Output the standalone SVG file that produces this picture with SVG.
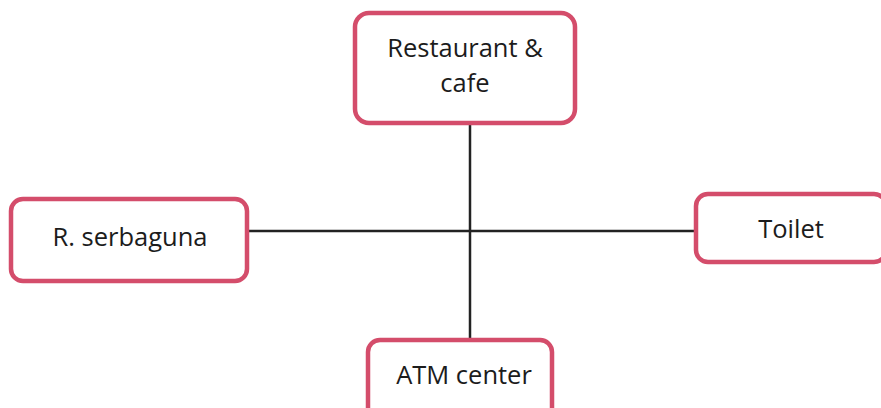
<svg xmlns="http://www.w3.org/2000/svg" width="881" height="408" viewBox="0 0 881 408">
<style>
.box{fill:#fff;stroke:#d44d6b;stroke-width:4.5}
.lbl{font-family:"Open Sans","Liberation Sans",sans-serif;font-size:25.5px;fill:#1c1c1c;text-anchor:middle}
.ln{stroke:#222;stroke-width:2.5;fill:none}
</style>
<rect width="881" height="408" fill="#fff"/>
<g id="connectors">
<line class="ln" x1="248" y1="231" x2="695" y2="231"/>
<line class="ln" x1="470" y1="124" x2="470" y2="340"/>
</g>
<g id="restaurant">
<rect class="box" x="355" y="13" width="220" height="110" rx="14"/>
<text class="lbl" x="465" y="57">Restaurant &amp;</text>
<text class="lbl" x="465" y="92">cafe</text>
</g>
<g id="serbaguna">
<rect class="box" x="11" y="199" width="236" height="82" rx="12"/>
<text class="lbl" x="130" y="246">R. serbaguna</text>
</g>
<g id="toilet">
<rect class="box" x="696" y="194" width="190" height="68" rx="12"/>
<text class="lbl" x="791" y="238">Toilet</text>
</g>
<g id="atm">
<rect class="box" x="368" y="340" width="184" height="80" rx="12"/>
<text class="lbl" x="464" y="384">ATM center</text>
</g>
</svg>
